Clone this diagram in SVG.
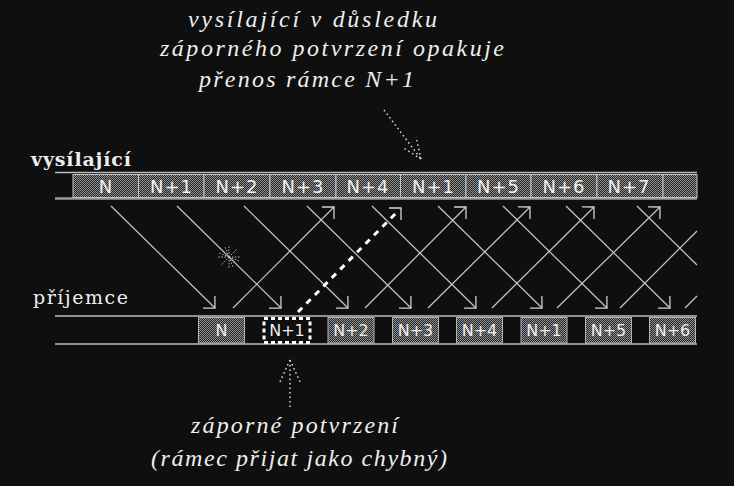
<svg xmlns="http://www.w3.org/2000/svg" width="734" height="486" viewBox="0 0 734 486">
<defs>
<pattern id="hatch" width="2" height="2" patternUnits="userSpaceOnUse">
<rect width="2" height="2" fill="#262626"/>
<rect width="1" height="1" fill="#909090"/>
<rect x="1" y="1" width="1" height="1" fill="#909090"/>
</pattern>
<marker id="ah" viewBox="-10 -10 20 20" refX="0" refY="0" markerWidth="20" markerHeight="20" orient="auto" markerUnits="userSpaceOnUse">
<path d="M-8.5,-8.5 L0,0 L-8.5,8.5" fill="none" stroke="#cfcfcf" stroke-width="1.3"/>
</marker>
<style>
.bg{fill:#0f0f0f}
.rule{stroke:#bdbdbd;stroke-width:1.5;fill:none}
.rule2{stroke:#9a9a9a;stroke-width:2.5;fill:none}
.cell{fill:url(#hatch);stroke:#c4c4c4;stroke-width:1}
.box{fill:url(#hatch);stroke:#b4b4b4;stroke-width:1}
.nak{fill:#0f0f0f;stroke:#ffffff;stroke-width:3;stroke-dasharray:4 3}
.st{font-family:"DejaVu Sans",sans-serif;font-size:18px;fill:#f2f2f2;text-anchor:middle;letter-spacing:1px}
.rt{font-family:"DejaVu Sans",sans-serif;font-size:16px;fill:#eeeeee;text-anchor:middle}
.lab{font-family:"DejaVu Serif","Liberation Serif",serif;font-size:19px;fill:#eeeeee}
.it{font-family:"Liberation Serif","Times New Roman",serif;font-style:italic;font-size:24px;fill:#eeeeee}
.ln{stroke:#c8c8c8;stroke-width:1.2;fill:none}
.arr{marker-end:url(#ah)}
.dsh{stroke:#ffffff;stroke-width:3;fill:none;stroke-dasharray:6 6}
.dot{stroke:#dddddd;stroke-width:1.5;fill:none;stroke-dasharray:1.5 3}
.burst{stroke:#bbbbbb;stroke-width:1;fill:none;stroke-dasharray:1.5 1.5}
</style>
</defs>
<rect class="bg" x="0" y="0" width="734" height="486"/>

<g id="caption-top">
<text class="it" x="188" y="27" textLength="249" lengthAdjust="spacing">vysílající v důsledku</text>
<text class="it" x="160" y="56" textLength="344" lengthAdjust="spacing">záporného potvrzení opakuje</text>
<text class="it" x="199" y="87" textLength="215" lengthAdjust="spacing">přenos rámce N+1</text>
</g>

<g id="label-sender"><text class="lab" x="31" y="166" font-weight="bold" textLength="100" lengthAdjust="spacing">vysílající</text></g>
<g id="label-receiver"><text class="lab" x="33" y="304" textLength="95" lengthAdjust="spacing">příjemce</text></g>

<g id="sender">
<line class="rule" x1="55" y1="172.5" x2="697" y2="172.5"/>
<line class="rule2" x1="55" y1="198.5" x2="697" y2="198.5"/>
<g id="s-N"><rect class="cell" x="73" y="174.5" width="65.5" height="23"/><text class="st" x="106" y="193">N</text></g>
<g id="s-N1"><rect class="cell" x="138.5" y="174.5" width="65.5" height="23"/><text class="st" x="171.5" y="193">N+1</text></g>
<g id="s-N2"><rect class="cell" x="204" y="174.5" width="66" height="23"/><text class="st" x="237" y="193">N+2</text></g>
<g id="s-N3"><rect class="cell" x="270" y="174.5" width="66" height="23"/><text class="st" x="303" y="193">N+3</text></g>
<g id="s-N4"><rect class="cell" x="336" y="174.5" width="64.5" height="23"/><text class="st" x="368" y="193">N+4</text></g>
<g id="s-N1r"><rect class="cell" x="400.5" y="174.5" width="65.5" height="23"/><text class="st" x="433.5" y="193">N+1</text></g>
<g id="s-N5"><rect class="cell" x="466" y="174.5" width="65" height="23"/><text class="st" x="498.5" y="193">N+5</text></g>
<g id="s-N6"><rect class="cell" x="531" y="174.5" width="66" height="23"/><text class="st" x="564" y="193">N+6</text></g>
<g id="s-N7"><rect class="cell" x="597" y="174.5" width="66" height="23"/><text class="st" x="629" y="193">N+7</text></g>
<g id="s-rest"><rect class="cell" x="663" y="174.5" width="34" height="23"/></g>
</g>

<g id="receiver">
<line class="rule" x1="55" y1="316" x2="697" y2="316"/>
<line class="rule" x1="55" y1="344" x2="697" y2="344"/>
<g id="r-N"><rect class="box" x="198.5" y="317.5" width="46" height="25.5"/><text class="rt" x="221.5" y="336">N</text></g>
<g id="r-N1"><rect class="nak" x="264" y="318.5" width="46" height="24"/><text class="rt" x="287" y="336">N+1</text></g>
<g id="r-N2"><rect class="box" x="328" y="317.5" width="46" height="25.5"/><text class="rt" x="351" y="336">N+2</text></g>
<g id="r-N3"><rect class="box" x="392.5" y="317.5" width="46" height="25.5"/><text class="rt" x="415.5" y="336">N+3</text></g>
<g id="r-N4"><rect class="box" x="456.5" y="317.5" width="46" height="25.5"/><text class="rt" x="479.5" y="336">N+4</text></g>
<g id="r-N1r"><rect class="box" x="521" y="317.5" width="46" height="25.5"/><text class="rt" x="544" y="336">N+1</text></g>
<g id="r-N5"><rect class="box" x="585.5" y="317.5" width="46" height="25.5"/><text class="rt" x="608.5" y="336">N+5</text></g>
<g id="r-N6"><rect class="box" x="649.5" y="317.5" width="46" height="25.5"/><text class="rt" x="672.5" y="336">N+6</text></g>
</g>

<g id="connectors">
<line class="ln arr" x1="111" y1="206" x2="215" y2="308"/>
<line class="ln arr" x1="177" y1="206" x2="281" y2="308"/>
<line class="ln arr" x1="244" y1="206" x2="348" y2="308"/>
<line class="ln arr" x1="307" y1="206" x2="411" y2="308"/>
<line class="ln arr" x1="372" y1="206" x2="476" y2="308"/>
<line class="ln arr" x1="438" y1="206" x2="542" y2="308"/>
<line class="ln arr" x1="503" y1="206" x2="607" y2="308"/>
<line class="ln arr" x1="566" y1="206" x2="670" y2="308"/>
<line class="ln" x1="637" y1="206" x2="697" y2="265"/>
<line class="ln arr" x1="233" y1="308" x2="334" y2="207"/>
<line class="ln arr" x1="365" y1="308" x2="466" y2="207"/>
<line class="ln arr" x1="428" y1="308" x2="530" y2="207"/>
<line class="ln arr" x1="492" y1="308" x2="594" y2="207"/>
<line class="ln arr" x1="557" y1="308" x2="660" y2="207"/>
<line class="ln" x1="620" y1="308" x2="697" y2="231"/>
<line class="ln" x1="685" y1="308" x2="697" y2="296"/>
<line class="dsh" x1="298" y1="312" x2="398" y2="211"/>
<path d="M389,208 L401,208 L401,220" fill="none" stroke="#d8d8d8" stroke-width="1.3"/>
<path class="dot" d="M384,110 L421,159 M421,159 L402,147 M421,159 L416,137"/>
<path class="dot" d="M290,407 L290,361 M290,360 L279,384 M290,360 L301,384"/>
<path class="burst" d="M229,257 L229,246 M229,257 L229,268 M229,257 L218,257 M229,257 L240,257 M229,257 L221,249 M229,257 L237,265 M229,257 L237,249 M229,257 L221,265 M229,257 L225,247 M229,257 L233,267 M229,257 L219,253 M229,257 L239,261"/>
</g>

<g id="caption-bottom">
<text class="it" x="191" y="433" textLength="207" lengthAdjust="spacing">záporné potvrzení</text>
<text class="it" x="151" y="466" textLength="296" lengthAdjust="spacing">(rámec přijat jako chybný)</text>
</g>
</svg>
